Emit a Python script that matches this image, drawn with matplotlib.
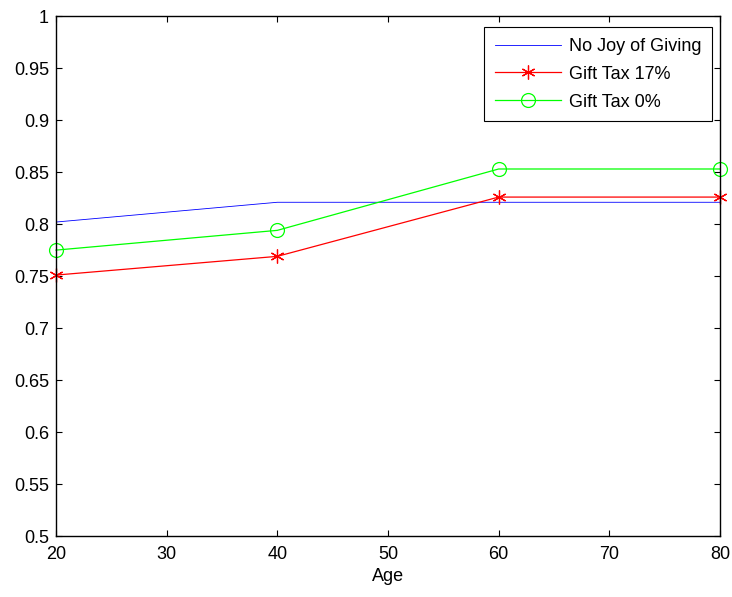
import matplotlib.pyplot as plt

plt.rcParams['font.family'] = ['Liberation Sans', 'DejaVu Sans']

# data
age = [20, 40, 60, 80]
no_joy = [0.802, 0.821, 0.821, 0.821]
tax17 = [0.751, 0.769, 0.826, 0.826]
tax0 = [0.775, 0.794, 0.853, 0.853]

xticks = [20, 30, 40, 50, 60, 70, 80]
yticks = [0.5, 0.55, 0.6, 0.65, 0.7, 0.75, 0.8, 0.85, 0.9, 0.95, 1]

fig = plt.figure(figsize=(7.32, 5.97), dpi=100)
ax = fig.add_axes([0.0765, 0.102, 0.907, 0.871])

ax.plot(age, no_joy, '-', color='#0000ff', linewidth=0.6, label='No Joy of Giving')
ax.plot(age, tax17, '-', color='#ff0000', linewidth=0.9, marker=(6, 2, 0),
        markersize=10, markeredgewidth=0.9, label='Gift Tax 17%', clip_on=False)
ax.plot(age, tax0, '-', color='#00ff00', linewidth=0.9, marker='o',
        markersize=10, markerfacecolor='none', markeredgewidth=0.9,
        label='Gift Tax 0%', clip_on=False)

ax.set_xlim(20, 80)
ax.set_ylim(0.5, 1)
ax.set_xticks(xticks)
ax.set_yticks(yticks)
ax.set_yticklabels([f'{v:g}' for v in yticks])
ax.tick_params(direction='in', top=True, right=True, labelsize=13, length=4, width=0.8)
ax.tick_params(axis='y', pad=5)
ax.tick_params(axis='x', pad=7)
for s in ax.spines.values():
    s.set_linewidth(1.0)
ax.set_xlabel('Age', fontsize=13, labelpad=4)

leg = ax.legend(loc='upper right', bbox_to_anchor=(0.988, 0.979), borderaxespad=0,
                fontsize=13, handlelength=3.7, handletextpad=0.4, fancybox=False,
                framealpha=1, edgecolor='black', labelspacing=0.6, borderpad=0.6)
leg.get_frame().set_linewidth(0.8)

fig.savefig('out.png', dpi=100)
